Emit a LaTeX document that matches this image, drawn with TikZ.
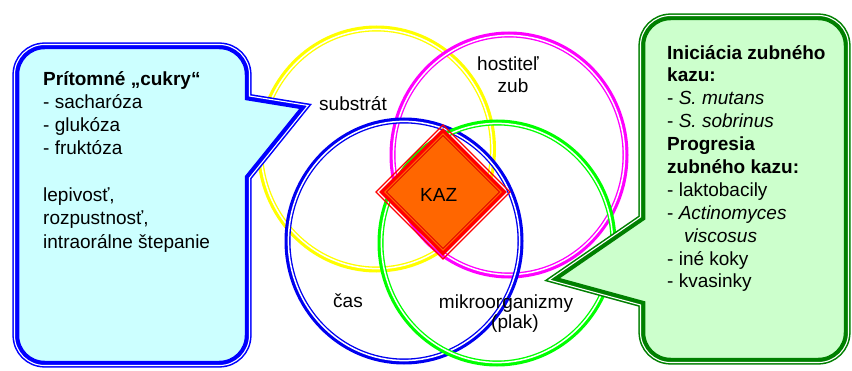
\documentclass[tikz,border=0pt]{standalone}
\usepackage{fontspec}
\setmainfont{Liberation Sans}
\definecolor{cyanfill}{HTML}{CCFFFF}
\definecolor{greenfill}{HTML}{CCFFCC}
\definecolor{calloutblue}{HTML}{0000FF}
\definecolor{calloutgreen}{HTML}{008000}
\definecolor{ringyellow}{HTML}{FFFF00}
\definecolor{ringmagenta}{HTML}{FF00FF}
\definecolor{ringblue}{HTML}{0000F0}
\definecolor{ringgreen}{HTML}{00FF00}
\definecolor{kazorange}{HTML}{FF6600}
\definecolor{kazred}{HTML}{FF0000}
\definecolor{kazdark}{HTML}{E00000}
\newcommand\leftcallout{(44.5,325.5) -- (219.5,325.5) arc[start angle=90,end angle=0,radius=30] -- (249.5,274) -- (308,264.5) -- (249.5,192) -- (249.5,34.5) arc[start angle=0,end angle=-90,radius=30] -- (44.5,4.5) arc[start angle=270,end angle=180,radius=30] -- (14.5,295.5) arc[start angle=180,end angle=90,radius=30] -- cycle}
\newcommand\rightcallout{(670.5,354.5) -- (818.5,354.5) arc[start angle=90,end angle=0,radius=30] -- (848.5,37.5) arc[start angle=0,end angle=-90,radius=30] -- (670.5,7.5) arc[start angle=270,end angle=180,radius=30] -- (640.5,65) -- (549,90) -- (640.5,153) -- (640.5,324.5) arc[start angle=180,end angle=90,radius=30] -- cycle}
\begin{document}
\begin{tikzpicture}[x=1pt,y=1pt,
  ringout/.style={line width=6pt},
  ringgap/.style={draw=white,line width=1.5pt},
  lbl/.style={inner sep=0pt, font=\fontsize{19}{23}\selectfont, anchor=base},
  blk/.style={inner sep=0pt, align=left, anchor=base west},
  calloutout/.style={line width=4.2pt, miter limit=10},
  calloutin/.style={line width=9.5pt, miter limit=10},
  calloutgap/.style={draw=white, line width=1.1pt, miter limit=10},
]
\useasboundingbox (0,0) rectangle (852,370);
% rings
\foreach \cx/\cy/\col in {376.5/221/ringyellow, 509/215/ringmagenta, 404/129/ringblue, 497/127/ringgreen} {
  \draw[ringout, draw=\col] (\cx,\cy) ellipse[x radius=116.5, y radius=120.5];
  \draw[ringgap] (\cx,\cy) ellipse[x radius=115.6, y radius=119.6];
}
% diamond
\draw[kazred, line width=1.2pt] (443,245) -- (510,178) -- (443,111) -- (376,178) -- cycle;
\draw[kazred, fill=kazorange, line width=3.2pt] (443,239.5) -- (504.5,178) -- (443,116.5) -- (381.5,178) -- cycle;
\draw[kazdark, line width=1pt] (443,234.5) -- (499.5,178) -- (443,121.5) -- (386.5,178) -- cycle;
\node[lbl] (kaz) at (438.7,168.3) {KAZ};
% left callout
\fill[cyanfill] \leftcallout;
\draw[calloutout, draw=calloutblue] \leftcallout;
\begin{scope}
  \clip \leftcallout;
  \draw[calloutin, draw=calloutblue] \leftcallout;
\end{scope}
\draw[calloutgap] \leftcallout;
% right callout
\fill[greenfill] \rightcallout;
\draw[calloutout, draw=calloutgreen] \rightcallout;
\begin{scope}
  \clip \rightcallout;
  \draw[calloutin, draw=calloutgreen] \rightcallout;
\end{scope}
\draw[calloutgap] \rightcallout;
% labels
\node[lbl] (substrat) at (353,259.3) {substrát};
\node[lbl] (hostitel) at (508,299.3) {hostiteľ};
\node[lbl] (zub) at (513,277.3) {zub};
\node[lbl] (cas) at (348,63) {čas};
\node[lbl] (mikro) at (506,62) {mikroorganizmy};
\node[lbl] (plak) at (515,42) {(plak)};
% text blocks (base anchor = last line)
\node[blk, font=\fontsize{19}{23.3}\selectfont] (sugars) at (43,121.8) {\textbf{Prítomné „cukry“}\\- sacharóza\\- glukóza\\- fruktóza\\[23.3pt]lepivosť,\\rozpustnosť,\\intraorálne štepanie};
\node[blk, font=\fontsize{19}{22.9}\selectfont] (bacteria) at (667,82) {\textbf{Iniciácia zubného}\\\textbf{kazu:}\\- \textit{S. mutans}\\- \textit{S. sobrinus}\\\textbf{Progresia}\\\textbf{zubného kazu:}\\- laktobacily\\- \textit{Actinomyces}\\\hspace*{17pt}\textit{viscosus}\\- iné koky\\- kvasinky};
\end{tikzpicture}
\end{document}
